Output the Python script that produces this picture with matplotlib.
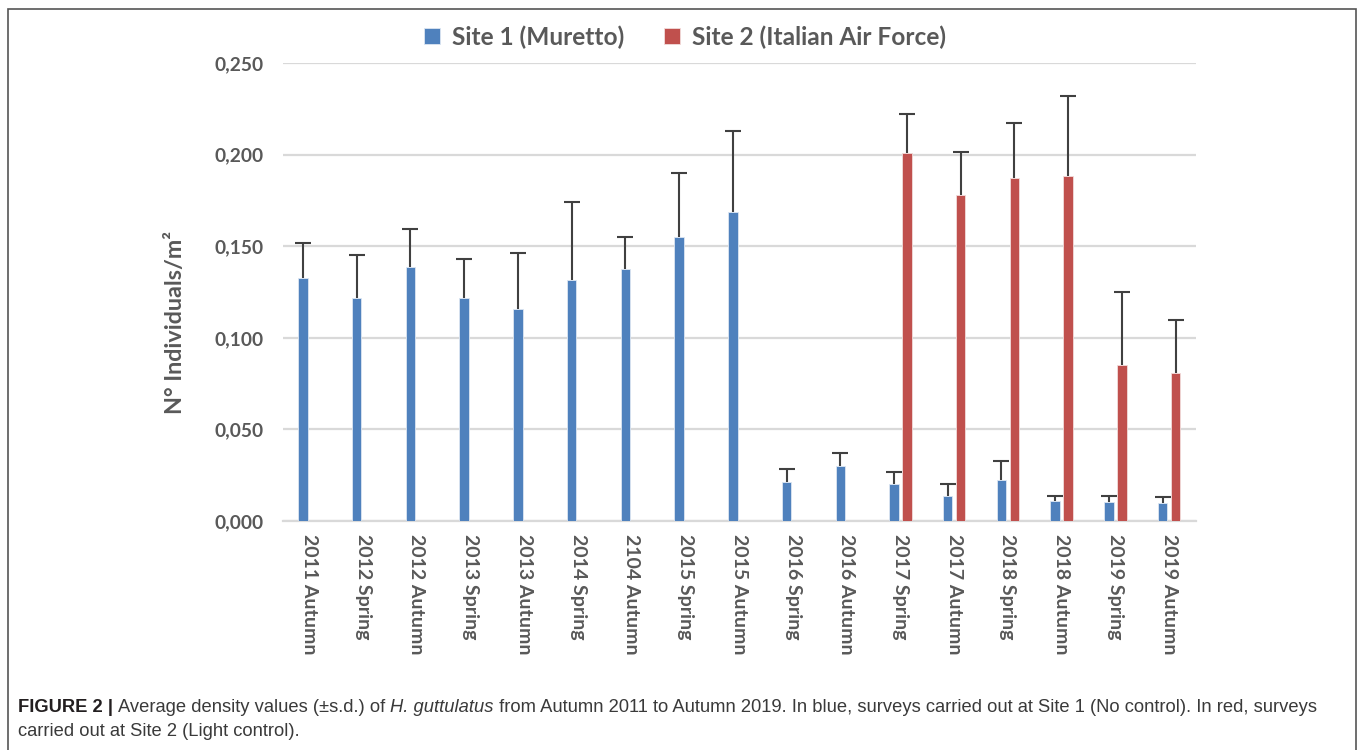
import matplotlib
matplotlib.use('Agg')
import matplotlib.pyplot as plt
import numpy as np
from matplotlib.patches import Rectangle

# values
labels = ['2011 Autumn', '2012 Spring', '2012 Autumn', '2013 Spring', '2013 Autumn',
          '2014 Spring', '2104 Autumn', '2015 Spring', '2015 Autumn', '2016 Spring',
          '2016 Autumn', '2017 Spring', '2017 Autumn', '2018 Spring', '2018 Autumn',
          '2019 Spring', '2019 Autumn']
site1 = [0.1328, 0.1219, 0.1385, 0.1219, 0.1156, 0.1317, 0.1374, 0.1549, 0.1687,
         0.0211, 0.0302, 0.0200, 0.0138, 0.0224, 0.0109, 0.0102, 0.0097]
site1_sd = [0.0188, 0.0233, 0.0209, 0.0209, 0.0309, 0.0426, 0.0175, 0.0351, 0.0440,
            0.0075, 0.0071, 0.0069, 0.0062, 0.0104, 0.0027, 0.0034, 0.0036]
# site 2 only surveyed from 2017 Spring on
site2_labels = ['2017 Spring', '2017 Autumn', '2018 Spring', '2018 Autumn',
                '2019 Spring', '2019 Autumn']
site2 = [0.2007, 0.1778, 0.1874, 0.1885, 0.0852, 0.0806]
site2_sd = [0.0213, 0.0236, 0.0300, 0.0433, 0.0396, 0.0293]

blue = '#4f81bd'
red = '#c0504d'
grey = '#595959'

plt.rcParams['font.family'] = ['Lato', 'DejaVu Sans']

fig = plt.figure(figsize=(13.58, 7.5), dpi=100)
ax = fig.add_axes([282.6 / 1358, 1 - 521 / 750, (1196 - 282.6) / 1358, (521 - 63) / 750])

x = np.arange(len(labels))
x2 = np.array([labels.index(l) for l in site2_labels])
w = 0.177
off = 0.121
err_kw = dict(ecolor='#404040', elinewidth=1.5, capsize=5.5, capthick=1.5)
b1 = ax.bar(x - off, site1, w, yerr=[np.zeros(len(site1)), site1_sd], color=blue,
            edgecolor='#dce6f2', linewidth=0.6, error_kw=err_kw, label='Site 1 (Muretto)', zorder=3)
b2 = ax.bar(x2 + off, site2, w, yerr=[np.zeros(len(site2)), site2_sd], color=red,
            edgecolor='#f2dcdb', linewidth=0.6, error_kw=err_kw,
            label='Site 2 (Italian Air Force)', zorder=3)
# keep only the upper caps
for b in (b1, b2):
    b.errorbar.lines[1][0].set_visible(False)

ax.set_xlim(-0.5, len(labels) - 0.5)
ax.set_ylim(0, 0.25)
yt = [0, 0.05, 0.10, 0.15, 0.20, 0.25]
ax.set_yticks(yt)
ax.set_yticklabels(['{:.3f}'.format(v).replace('.', ',') for v in yt],
                   fontsize=13.8, fontweight='bold', color=grey)
ax.set_xticks(x)
ax.set_xticklabels(labels, rotation=270, fontsize=14, fontweight='bold', color=grey)
ax.tick_params(length=0)
ax.tick_params(axis='x', pad=9)
ax.tick_params(axis='y', pad=14)
ax.yaxis.grid(True, color='#d9d9d9', linewidth=1.6, zorder=0)
for s in ['top', 'right', 'left']:
    ax.spines[s].set_visible(False)
ax.spines['bottom'].set_color('#d9d9d9')
ax.spines['bottom'].set_linewidth(1.6)
ax.set_axisbelow(True)
ax.set_ylabel('N° Individuals/m²', fontsize=16.8, fontweight='bold', color=grey)
ax.yaxis.set_label_coords((186 - 282.6) / 913.4, (521 - 322) / 458)

fig.legend(loc='center', bbox_to_anchor=(685 / 1358, 1 - 37 / 750), ncol=2, frameon=False,
           handlelength=0.65, handleheight=0.65, handletextpad=0.5, columnspacing=1.6,
           prop={'size': 17.6, 'weight': 'bold'}, labelcolor=grey)

# figure frame
fig.patches.append(Rectangle((8 / 1358, -0.1), (1356 - 8) / 1358, 1.1 - 9 / 750,
                             transform=fig.transFigure, fill=False, edgecolor='#555555',
                             linewidth=1.2))

# caption, built piece by piece
cap_font = ['Liberation Sans', 'DejaVu Sans']
fig.canvas.draw()
r = fig.canvas.get_renderer()
pieces = [('FIGURE 2 | ', 'bold', 'normal', '#231f20'),
          ('Average density values (±s.d.) of ', 'normal', 'normal', '#3a3a3a'),
          ('H. guttulatus', 'normal', 'italic', '#3a3a3a'),
          (' from Autumn 2011 to Autumn 2019. In blue, surveys carried out at Site 1 (No control). In red, surveys',
           'normal', 'normal', '#3a3a3a')]
xpos = 18
for txt, wt, st, col in pieces:
    t = fig.text(xpos / 1358, 1 - 712 / 750, txt, fontsize=13.25, fontweight=wt, fontstyle=st,
                 color=col, family=cap_font, ha='left', va='baseline')
    bb = t.get_window_extent(renderer=r)
    xpos += bb.width
fig.text(18 / 1358, 1 - 736 / 750, 'carried out at Site 2 (Light control).', fontsize=13.25,
         color='#3a3a3a', family=cap_font, ha='left', va='baseline')

fig.savefig('out.png', dpi=100)
